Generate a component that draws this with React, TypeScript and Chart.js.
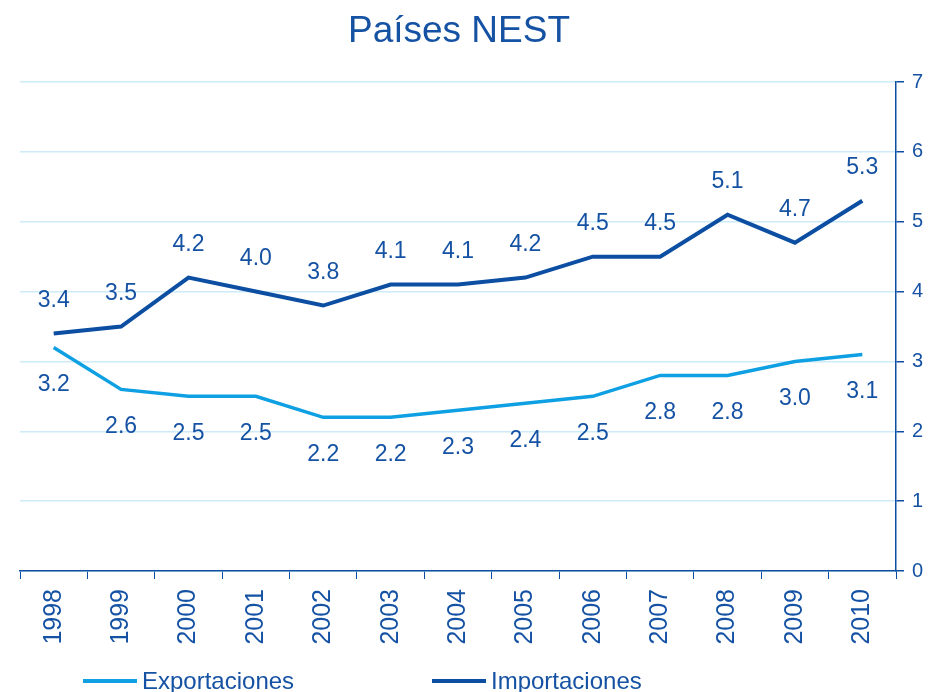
import React, { useEffect, useRef } from "react";
import { Chart, registerables } from "chart.js";

Chart.register(...registerables);

const TITLE = "Países NEST";
const YEARS = ["1998", "1999", "2000", "2001", "2002", "2003", "2004", "2005", "2006", "2007", "2008", "2009", "2010"];
const EXPORTACIONES = [3.2, 2.6, 2.5, 2.5, 2.2, 2.2, 2.3, 2.4, 2.5, 2.8, 2.8, 3.0, 3.1];
const IMPORTACIONES = [3.4, 3.5, 4.2, 4.0, 3.8, 4.1, 4.1, 4.2, 4.5, 4.5, 5.1, 4.7, 5.3];
const Y_TICKS = [0, 1, 2, 3, 4, 5, 6, 7];

const TEXT = "#1552A3";
const DARK = "#0B4EA2";
const LIGHT = "#0EA0E2";
const GRID = "#CDEBF8";
const FONT = "Arial, 'Liberation Sans', sans-serif";

const labelOffsets = [37, -33];

const decorPlugin = {
  id: "decor",
  afterDatasetsDraw(chart: any) {
    const ctx = chart.ctx;
    ctx.save();
    ctx.fillStyle = TEXT;
    ctx.font = `23px ${FONT}`;
    ctx.textAlign = "center";
    ctx.textBaseline = "middle";
    chart.data.datasets.forEach((ds: any, i: number) => {
      const meta = chart.getDatasetMeta(i);
      meta.data.forEach((pt: any, j: number) => {
        ctx.fillText(Number(ds.data[j]).toFixed(1), pt.x, pt.y + labelOffsets[i]);
      });
    });
    // title
    ctx.font = `37px ${FONT}`;
    ctx.textBaseline = "alphabetic";
    ctx.fillText(TITLE, 459, 42);
    // legend
    const items = [
      { x: 83, ds: chart.data.datasets[0] },
      { x: 432, ds: chart.data.datasets[1] },
    ];
    ctx.font = `24px ${FONT}`;
    ctx.textAlign = "left";
    items.forEach((it) => {
      ctx.strokeStyle = it.ds.borderColor;
      ctx.lineWidth = 4;
      ctx.beginPath();
      ctx.moveTo(it.x, 681);
      ctx.lineTo(it.x + 54, 681);
      ctx.stroke();
      ctx.fillText(it.ds.label, it.x + 59, 689);
    });
    ctx.restore();
  },
};

export default function App() {
  const ref = useRef<HTMLCanvasElement>(null);
  useEffect(() => {
    if (!ref.current) return;
    const chart = new Chart(ref.current, {
      type: "line",
      data: {
        labels: YEARS,
        datasets: [
          {
            label: "Exportaciones",
            data: EXPORTACIONES,
            borderColor: LIGHT,
            backgroundColor: LIGHT,
            borderWidth: 3.5,
            pointRadius: 0,
            tension: 0,
          },
          {
            label: "Importaciones",
            data: IMPORTACIONES,
            borderColor: DARK,
            backgroundColor: DARK,
            borderWidth: 4,
            pointRadius: 0,
            tension: 0,
          },
        ],
      },
      options: {
        responsive: false,
        animation: false,
        layout: { padding: { top: 82, left: 20, right: 0, bottom: 0 } },
        plugins: { legend: { display: false }, title: { display: false }, tooltip: { enabled: false } },
        scales: {
          x: {
            type: "category",
            offset: true,
            grid: {
              offset: true,
              drawOnChartArea: false,
              drawTicks: true,
              tickLength: 8,
              tickColor: DARK,
              color: DARK,
            },
            border: { display: true, color: DARK, width: 1.5 },
            ticks: {
              color: TEXT,
              font: { size: 25, family: FONT },
              minRotation: 90,
              maxRotation: 90,
              padding: 10,
              autoSkip: false,
            },
            afterFit(scale: any) {
              scale.height = 121;
            },
          },
          y: {
            position: "right",
            min: 0,
            max: 7,
            afterBuildTicks(scale: any) {
              scale.ticks = Y_TICKS.map((v) => ({ value: v }));
            },
            grid: {
              color: GRID,
              lineWidth: 1.5,
              tickColor: DARK,
              tickLength: 8,
              drawTicks: true,
            },
            border: { display: true, color: DARK, width: 1.5 },
            ticks: {
              color: TEXT,
              font: { size: 20, family: FONT },
              padding: 8,
            },
            afterFit(scale: any) {
              scale.width = 32;
            },
          },
        },
      },
      plugins: [decorPlugin],
    } as any);
    return () => chart.destroy();
  }, []);
  return (
    <canvas
      ref={ref}
      width={928}
      height={692}
      style={{ position: "absolute", left: 0, top: 0, width: 928, height: 692, background: "#fff" }}
    />
  );
}
